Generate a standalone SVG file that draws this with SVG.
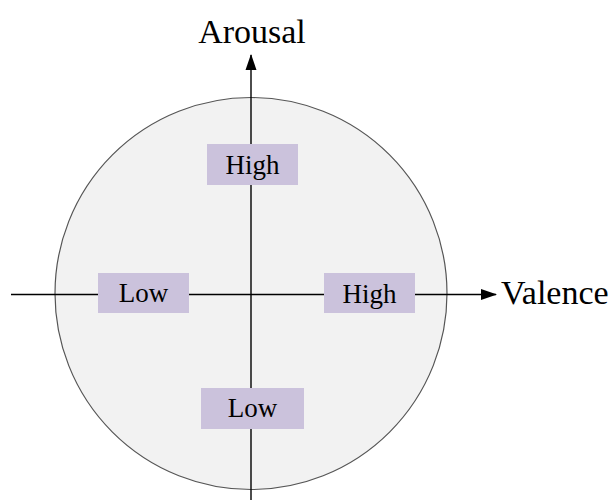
<svg xmlns="http://www.w3.org/2000/svg" width="616" height="500" viewBox="0 0 616 500">
<style>
.box{fill:#cbc2dc;}
.lbl{font-family:"Liberation Serif","Times New Roman",serif;font-size:27px;fill:#000;text-anchor:middle;}
.axl{font-family:"Liberation Serif","Times New Roman",serif;font-size:34px;fill:#000;}
.axis{stroke:#000;stroke-width:1.4;fill:none;}
</style>
<defs>
<marker id="arr" markerWidth="18" markerHeight="12" refX="15" refY="6" orient="auto" markerUnits="userSpaceOnUse"><path d="M0,0.5 L16,6 L0,11.5 Z"/></marker>
</defs>
<rect width="616" height="500" fill="#fff"/>
<g id="circle"><circle cx="251" cy="293.5" r="196" fill="#f2f2f2" stroke="#555" stroke-width="1.2"/></g>
<g id="connectors">
<line class="axis" x1="251" y1="500" x2="251" y2="55" marker-end="url(#arr)"/>
<line class="axis" x1="11" y1="294.5" x2="496" y2="294.5" marker-end="url(#arr)"/>
</g>
<g id="arousal"><text class="axl" x="252" y="43" text-anchor="middle">Arousal</text></g>
<g id="valence"><text class="axl" x="501" y="304">Valence</text></g>
<g id="high-arousal"><rect class="box" x="207" y="144" width="91" height="41"/><text class="lbl" x="252.5" y="174">High</text></g>
<g id="low-arousal"><rect class="box" x="201" y="388" width="103" height="41"/><text class="lbl" x="252.5" y="417">Low</text></g>
<g id="low-valence"><rect class="box" x="98" y="273" width="91" height="40"/><text class="lbl" x="143.5" y="302">Low</text></g>
<g id="high-valence"><rect class="box" x="324" y="273" width="91" height="40"/><text class="lbl" x="369.5" y="303">High</text></g>
</svg>
